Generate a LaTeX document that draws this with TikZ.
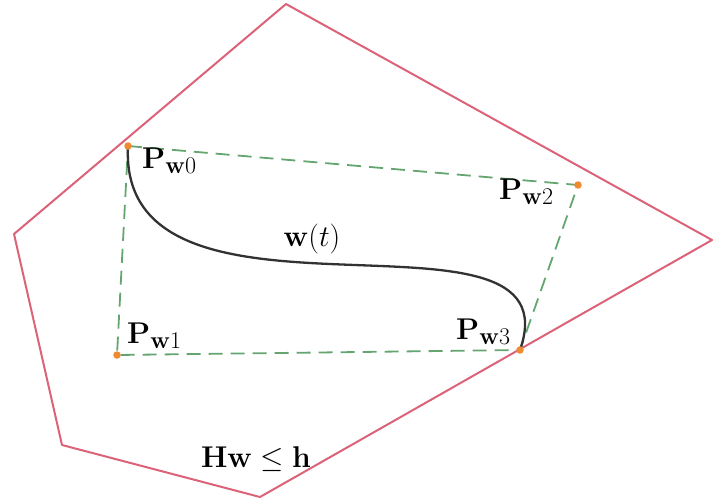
\documentclass[tikz,border=0pt]{standalone}
\usepackage{fix-cm}
\usepackage{amsmath,amssymb}
\usetikzlibrary{positioning}
\DeclareMathSizes{30}{30}{24}{20}
\definecolor{polyred}{RGB}{220,98,120}
\definecolor{dashgreen}{RGB}{100,165,112}
\definecolor{ptorange}{RGB}{238,138,48}
\definecolor{curvegray}{RGB}{50,50,50}

\begin{document}
\begin{tikzpicture}[x=1pt,y=-1pt,
    lbl/.style={inner sep=0pt,font=\fontsize{30}{36}\selectfont},
    ctrl/.style={dashgreen,line width=1.8pt,dash pattern=on 14pt off 8pt},
    dot/.style={circle,fill=ptorange,inner sep=0pt,minimum size=7.5pt}]
            \useasboundingbox (0,0) rectangle (713,499);
            % feasible region
            \draw[polyred,line width=2pt,line join=round]
                (286,4) -- (712,240) -- (260,497) -- (62,445) -- (14,234) -- cycle;
            % control points
            \coordinate (p0) at (128,146);
            \coordinate (p1) at (117,355);
            \coordinate (p2) at (578,185);
            \coordinate (p3) at (520,350);
            \draw[ctrl] (p0) -- (p2) -- (p3) -- (p1) -- cycle;
            \draw[curvegray,line width=2.3pt] (p0) .. controls (p1) and (p2) .. (p3);
            \node[dot] (d0) at (p0) {};
            \node[dot] (d1) at (p1) {};
            \node[dot] (d2) at (p2) {};
            \node[dot] (d3) at (p3) {};
            % labels
            \node[lbl,anchor=west] (l0) at (142,161) {$\mathbf{P}_{\mathbf{w}0}$};
            \node[lbl,anchor=west] (l1) at (127,336) {$\mathbf{P}_{\mathbf{w}1}$};
            \node[lbl,anchor=west] (l2) at (499,192) {$\mathbf{P}_{\mathbf{w}2}$};
            \node[lbl,anchor=west] (l3) at (456,332) {$\mathbf{P}_{\mathbf{w}3}$};
            \node[lbl] (wt) at (312,239) {$\mathbf{w}(t)$};
            \node[lbl] (cons) at (256,459) {$\mathbf{H}\mathbf{w}\leq\mathbf{h}$};
\end{tikzpicture}
\end{document}
